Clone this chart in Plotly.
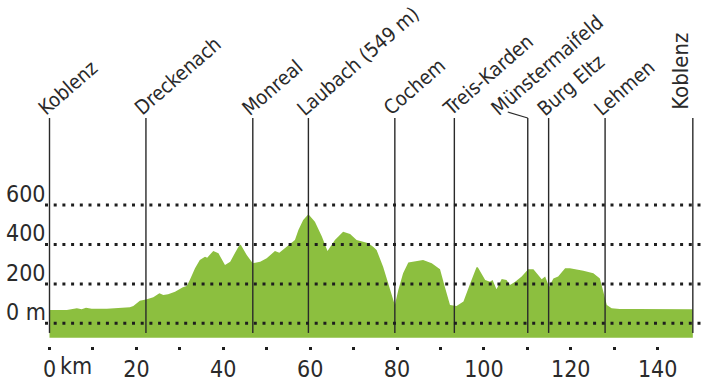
import plotly.graph_objects as go

# ---------------- data ----------------
DIST_KM = [0, 4, 6.3, 7.4, 8.4, 9.7, 13.2, 18.5, 19.3, 20.8, 22.4, 23.9, 25.3, 26.2, 27.3,
           28.9, 30.7, 31.6, 32.3, 33.5, 34.6, 35.8, 36.3, 37.7, 38.9, 40.4, 41.6, 43.5,
           44.0, 45.4, 46.8, 48.5, 50.0, 51.9, 52.9, 54.6, 56.5, 57.3, 58.4, 59.6, 61.1,
           62.7, 64.0, 65.7, 67.6, 69.2, 70.7, 72.2, 73.4, 74.5, 75.3, 76.8, 78.4, 79.5,
           80.3, 81.4, 82.6, 83.7, 86.0, 88.0, 89.9, 91.0, 92.2, 93.7, 95.3, 96.8, 98.3,
           98.6, 100.3, 101.4, 102.0, 102.9, 104.1, 105.2, 106.0, 107.2, 108.7, 110.2,
           111.4, 112.5, 113.3, 114.1, 115.0, 116.0, 117.1, 118.7, 119.8, 122.9, 125.2,
           126.7, 127.5, 128.3, 129.4, 131.3, 135.0, 140.0, 147.4, 148.1]
ELEV_M = [67, 68, 76, 71, 79, 74, 74, 81, 88, 115, 122, 132, 152, 144, 147,
          160, 183, 189, 220, 279, 321, 338, 333, 367, 355, 296, 313, 389,
          400, 347, 305, 313, 330, 367, 358, 389, 423, 474, 524, 553, 516,
          440, 367, 423, 465, 453, 423, 414, 406, 389, 372, 287, 169, 93,
          169, 254, 308, 313, 321, 305, 274, 186, 93, 88, 110, 200, 284,
          285, 220, 211, 220, 173, 225, 220, 194, 211, 237, 274,
          274, 245, 223, 237, 186, 228, 237, 279, 279, 267, 254,
          228, 152, 93, 76, 73, 73, 72, 71, 71]

TOWNS = ["Koblenz", "Dreckenach", "Monreal", "Laubach (549 m)", "Cochem", "Treis-Karden",
         "Münstermaifeld", "Burg Eltz", "Lehmen", "Koblenz"]
TOWN_KM = [0, 22.2, 46.8, 59.6, 79.5, 93.2, 110.1, 114.9, 127.9, 148.1]

Y_TICKS = [0, 200, 400, 600]
Y_TICK_TEXT = ["0 m", "200", "400", "600"]
X_TICKS = list(range(0, 141, 10))
X_TICK_TEXT = [str(v) if v % 20 == 0 else "" for v in X_TICKS]

# ---------------- style / layout constants ----------------
W, H = 712, 391
ML, MR = 45, 11
FONT = "Liberation Sans Narrow, Arial Narrow, DejaVu Sans Condensed, sans-serif"
TXT = "#2a2a2a"
GREEN = "#8cbf3f"
Y_MIN, Y_MAX = -343.7, 1641.1
X_MIN, X_MAX = -1.036, 149.98
AREA_BASE = -73          # bottom of green area
LINE_BOTTOM, LINE_TOP = -49, 1042
LABEL_ANGLE = -41
LABEL_SIZE = 20
TICK_SIZE = 23
LABEL_DX = {i: -19 for i in range(len(TOWNS))}
LABEL_DX[6] = -44         # Münstermaifeld shifted left with a leader line
LABEL_DY = -5
LEADER_IDX = 6
YLABEL_LEFT_PX = 4

fig = go.Figure()

# baseline for the fill
fig.add_trace(go.Scatter(x=DIST_KM, y=[AREA_BASE] * len(DIST_KM), mode="lines",
                         line=dict(width=0), hoverinfo="skip", showlegend=False))
fig.add_trace(go.Scatter(x=DIST_KM, y=ELEV_M, mode="lines", fill="tonexty",
                         fillcolor=GREEN, line=dict(width=0, color=GREEN),
                         showlegend=False))

# dotted grid lines above the area + their labels
for v, t in zip(Y_TICKS, Y_TICK_TEXT):
    fig.add_shape(type="line", xref="paper", x0=0, x1=1, yref="y", y0=v, y1=v,
                  line=dict(color="#1e1e1e", width=3, dash="3px,5.7px"), layer="above")
    fig.add_annotation(xref="paper", x=(YLABEL_LEFT_PX - ML) / (W - ML - MR), y=v, yref="y",
                       text=t, showarrow=False, xanchor="left", yanchor="middle",
                       yshift=11, font=dict(family=FONT, size=TICK_SIZE, color=TXT))

# vertical town lines
vx, vy = [], []
for km in TOWN_KM:
    vx += [km, km, None]
    vy += [LINE_BOTTOM, LINE_TOP, None]
fig.add_trace(go.Scatter(x=vx, y=vy, mode="lines", line=dict(color="#2a2a2a", width=1.4),
                         hoverinfo="skip", showlegend=False))

# leader for Münstermaifeld
fig.add_shape(type="line", xref="x", yref="y", xsizemode="pixel", ysizemode="pixel",
              xanchor=TOWN_KM[LEADER_IDX], yanchor=LINE_TOP, x0=-20, x1=0, y0=6, y1=0,
              line=dict(color="#2a2a2a", width=1.2))

# town labels
for i, (name, km) in enumerate(zip(TOWNS, TOWN_KM)):
    if i == len(TOWNS) - 1:
        fig.add_annotation(x=km, y=LINE_TOP, text=name, textangle=-90, showarrow=False,
                           xanchor="right", yanchor="bottom", xshift=2, yshift=6,
                           font=dict(family=FONT, size=LABEL_SIZE + 2, color=TXT))
    else:
        fig.add_annotation(x=km, y=LINE_TOP, text=name, textangle=LABEL_ANGLE,
                           showarrow=False, xanchor="left", yanchor="bottom",
                           xshift=LABEL_DX[i], yshift=LABEL_DY,
                           font=dict(family=FONT, size=LABEL_SIZE, color=TXT))

# "km" unit after the 0 tick
fig.add_annotation(x=0, xref="x", y=0, yref="paper", text="km", showarrow=False,
                   xanchor="left", yanchor="middle", xshift=8, yshift=H - 366,
                   font=dict(family=FONT, size=TICK_SIZE, color=TXT))

fig.update_layout(
    width=W, height=H,
    margin=dict(l=ML, r=MR, t=0, b=0, autoexpand=False),
    paper_bgcolor="white", plot_bgcolor="white",
    font=dict(family=FONT, color=TXT),
    xaxis=dict(range=[X_MIN, X_MAX], showgrid=False, zeroline=False, showline=False,
               automargin=False,
               tickmode="array", tickvals=X_TICKS, ticktext=X_TICK_TEXT,
               ticks="outside", ticklen=3, tickwidth=3, tickcolor="#1e1e1e",
               anchor="free", position=1 - 345.5 / H,
               tickfont=dict(family=FONT, size=TICK_SIZE, color=TXT)),
    yaxis=dict(range=[Y_MIN, Y_MAX], showgrid=False, zeroline=False, showline=False,
               automargin=False, showticklabels=False, ticks=""),
)

fig.write_html("out.html", config={"displayModeBar": False},
               post_script="document.body.style.margin='0';document.body.style.padding='0';")
